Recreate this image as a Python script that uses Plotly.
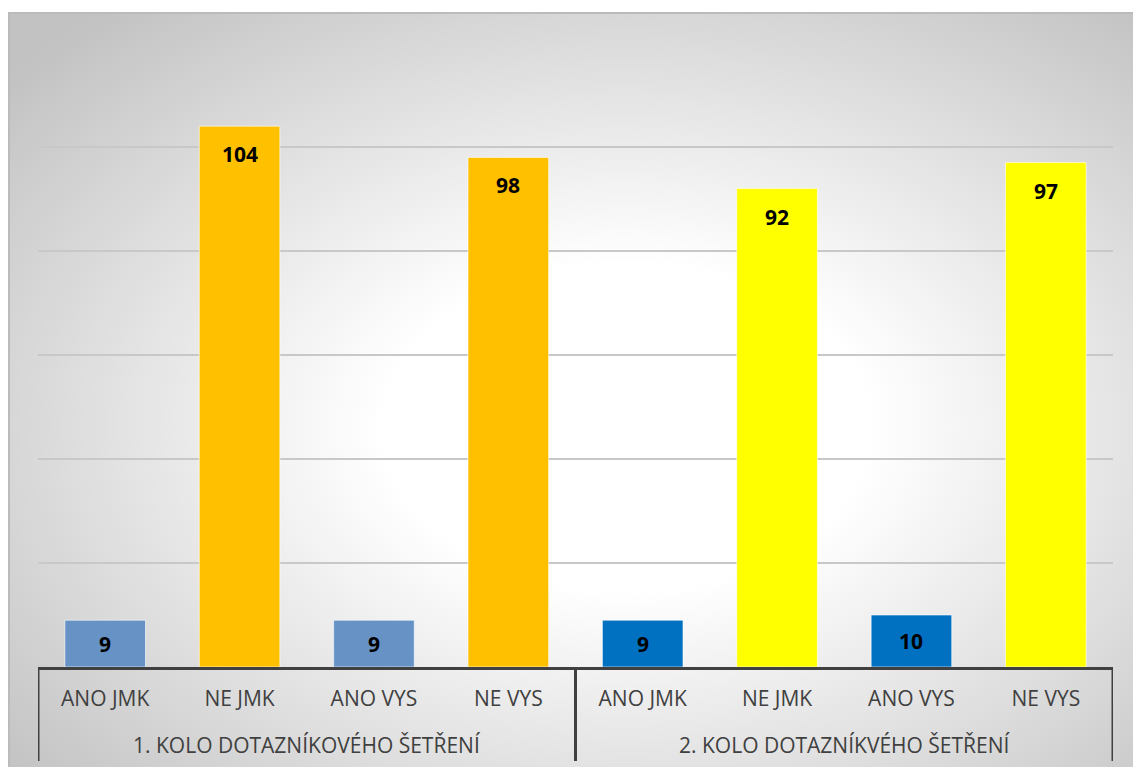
import base64
import plotly.graph_objects as go

# ---- data ----
categories = ["ANO JMK", "NE JMK", "ANO VYS", "NE VYS",
              "ANO JMK", "NE JMK", "ANO VYS", "NE VYS"]
groups = ["1. KOLO DOTAZNÍKOVÉHO ŠETŘENÍ", "2. KOLO DOTAZNÍKVÉHO ŠETŘENÍ"]
values = [9, 104, 9, 98, 9, 92, 10, 97]
bar_colors = ["#6692C6", "#FFC000", "#6692C6", "#FFC000",
              "#0070C0", "#FFFF00", "#0070C0", "#FFFF00"]

W, H = 1133, 767
L, R, T, B = 38, 20, 43, 100
plot_w = W - L - R
plot_h = H - T - B
Y_MAX = 120

x_pos = list(range(len(categories)))

fig = go.Figure()
fig.add_trace(go.Bar(
    x=x_pos, y=values,
    marker=dict(color=bar_colors, line=dict(color="rgba(255,255,255,0.6)", width=1)),
    width=0.6,
    hoverinfo="skip",
))

# data labels
px_per_unit = plot_h / Y_MAX
for xi, v in zip(x_pos, values):
    h = v * px_per_unit
    if h / 2 < 28:
        fig.add_annotation(x=xi, y=v / 2, text=f"<b>{v}</b>", showarrow=False,
                           yanchor="middle", font=dict(family="Open Sans", size=21, color="#000000"))
    else:
        fig.add_annotation(x=xi, y=v, yshift=-28, text=f"<b>{v}</b>", showarrow=False,
                           yanchor="middle", font=dict(family="Open Sans", size=21, color="#000000"))

# group labels
n_per = len(categories) // len(groups)
for gi, g in enumerate(groups):
    cx = gi * n_per + (n_per - 1) / 2
    fig.add_annotation(x=cx, xref="x", y=-(745 - (H - B)) / plot_h, yref="paper",
                       text=g, showarrow=False, yanchor="middle",
                       font=dict(family="Open Sans", size=21, color="#404040"))

# divider lines
div_bottom = -(761 - (H - B)) / plot_h
for d in [-0.5, n_per - 0.5, len(categories) - 0.5]:
    fig.add_shape(type="line", xref="x", yref="paper", x0=d, x1=d, y0=0, y1=div_bottom,
                  line=dict(color="#404040", width=3), layer="above")

# radial gradient background as an SVG image
bw, bh = W - 8, H - 12
svg = f'''<svg xmlns="http://www.w3.org/2000/svg" width="{bw}" height="{bh}" viewBox="0 0 {bw} {bh}" preserveAspectRatio="none">
<defs><radialGradient id="g" cx="0.55" cy="0.55" r="0.72">
<stop offset="0" stop-color="#ffffff"/>
<stop offset="0.3" stop-color="#ffffff"/>
<stop offset="1" stop-color="#c2c2c2"/>
</radialGradient></defs>
<rect x="0" y="0" width="{bw}" height="{bh}" fill="url(#g)"/>
<line x1="0" y1="1" x2="{bw}" y2="1" stroke="#bbbbbb" stroke-width="2"/>
<line x1="1" y1="0" x2="1" y2="{bh}" stroke="#bbbbbb" stroke-width="2"/>
</svg>'''
src = "data:image/svg+xml;base64," + base64.b64encode(svg.encode("utf-8")).decode("ascii")
fig.add_layout_image(dict(
    source=src, xref="paper", yref="paper",
    x=(8 - L) / plot_w, y=(H - B - 12) / plot_h,
    sizex=bw / plot_w, sizey=bh / plot_h,
    xanchor="left", yanchor="top", sizing="stretch", layer="below",
))

fig.update_layout(
    width=W, height=H,
    margin=dict(l=L, r=R, t=T, b=B, pad=0),
    paper_bgcolor="#ffffff",
    plot_bgcolor="rgba(0,0,0,0)",
    showlegend=False,
    bargap=0.4,
    xaxis=dict(
        tickmode="array", tickvals=x_pos, ticktext=categories,
        range=[-0.5, len(categories) - 0.5],
        showgrid=False, zeroline=False,
        showline=True, linecolor="#404040", linewidth=3,
        ticks="", ticklabelstandoff=11,
        tickfont=dict(family="Open Sans", size=21, color="#404040"),
    ),
    yaxis=dict(
        range=[0, Y_MAX], dtick=20, showticklabels=False,
        showgrid=True, gridcolor="#c8c8c8", gridwidth=1.5,
        zeroline=False, showline=False, ticks="",
    ),
)

fig.write_html("out.html")
